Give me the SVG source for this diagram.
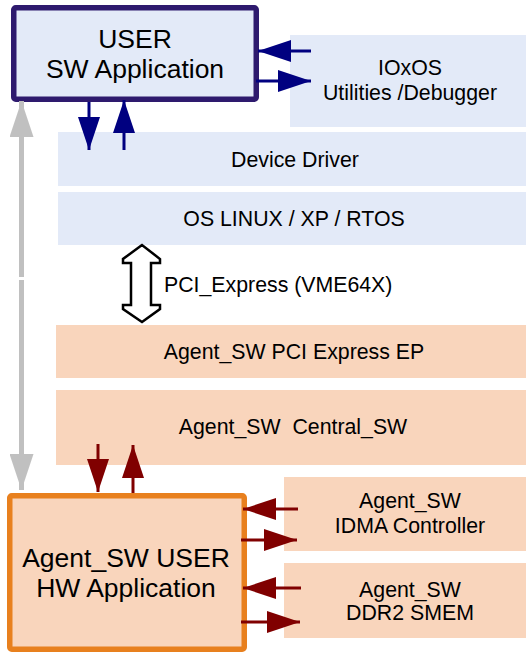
<svg xmlns="http://www.w3.org/2000/svg" width="526" height="653" viewBox="0 0 526 653">
<style>
.t{font-family:"Liberation Sans",Arial,sans-serif;fill:#000;text-anchor:middle}
.s{font-size:21.3px}
.b{font-size:26.5px}
.blue{fill:#e3eaf8}
.peach{fill:#f9d5bc}
.ba{stroke:#000080;stroke-width:3;fill:none}
.ra{stroke:#800000;stroke-width:3;fill:none}
.ga{stroke:#c0c0c0;stroke-width:5;fill:none}
</style>
<defs>
<marker id="mb" markerUnits="userSpaceOnUse" markerWidth="33" markerHeight="22" refX="33" refY="11" orient="auto"><path d="M0,0 L33,11 L0,22 Z" fill="#000080"/></marker>
<marker id="mr" markerUnits="userSpaceOnUse" markerWidth="33" markerHeight="22" refX="33" refY="11" orient="auto"><path d="M0,0 L33,11 L0,22 Z" fill="#800000"/></marker>
<marker id="mg" markerUnits="userSpaceOnUse" markerWidth="36" markerHeight="24" refX="36" refY="12" orient="auto"><path d="M0,0 L36,12 L0,24 Z" fill="#c0c0c0"/></marker>
</defs>
<rect width="526" height="653" fill="#fff"/>
<g id="ioxos"><rect class="blue" x="290" y="35" width="236" height="92"/><text class="t s" x="410" y="75">IOxOS</text><text class="t s" x="410" y="100">Utilities /Debugger</text></g>
<g id="device-driver"><rect class="blue" x="58" y="132" width="468" height="54"/><text class="t s" x="295" y="167">Device Driver</text></g>
<g id="os"><rect class="blue" x="58" y="192" width="468" height="53"/><text class="t s" x="294" y="226">OS LINUX / XP / RTOS</text></g>
<g id="user-sw"><rect x="13.75" y="7.75" width="242.5" height="91.5" rx="2" fill="#e3eaf8" stroke="#2e1a6e" stroke-width="5.5"/><text class="t b" x="135" y="48">USER</text><text class="t b" x="135" y="77.5">SW Application</text></g>
<g id="pci-ep"><rect class="peach" x="56" y="325" width="470" height="53"/><text class="t s" x="294" y="359">Agent_SW PCI Express EP</text></g>
<g id="central"><rect class="peach" x="56" y="390" width="470" height="75"/><text class="t s" x="293" y="434" xml:space="preserve">Agent_SW  Central_SW</text></g>
<g id="idma"><rect class="peach" x="284" y="477" width="242" height="74"/><text class="t s" x="410" y="508">Agent_SW</text><text class="t s" x="410" y="533">IDMA Controller</text></g>
<g id="ddr2"><rect class="peach" x="284" y="563" width="242" height="75"/><text class="t s" x="410" y="597">Agent_SW</text><text class="t s" x="410" y="620">DDR2 SMEM</text></g>
<g id="user-hw"><rect x="9.75" y="495.75" width="234.5" height="153.5" rx="2" fill="#f9d5bc" stroke="#e8801e" stroke-width="5.5"/><text class="t b" x="126" y="567">Agent_SW USER</text><text class="t b" x="126" y="597">HW Application</text></g>
<g id="connectors">
<line class="ga" x1="21.5" y1="277" x2="21.5" y2="101" marker-end="url(#mg)"/>
<line class="ga" x1="21.5" y1="280" x2="21.5" y2="490" marker-end="url(#mg)"/>
<line class="ba" x1="311" y1="51" x2="258" y2="51" marker-end="url(#mb)"/>
<line class="ba" x1="256" y1="81" x2="311" y2="81" marker-end="url(#mb)"/>
<line class="ba" x1="89" y1="102" x2="89" y2="150" marker-end="url(#mb)"/>
<line class="ba" x1="124" y1="150" x2="124" y2="100" marker-end="url(#mb)"/>
<polygon points="142,245 123,259 123,263 131,263 131,305 123,305 123,309 142,322 160,309 160,305 151,305 151,263 160,263 160,259" fill="#fff" stroke="#000" stroke-width="2.5" stroke-linejoin="miter"/>
<text class="s" x="164" y="292" style="font-family:'Liberation Sans',Arial,sans-serif">PCI_Express (VME64X)</text>
<line class="ra" x1="98" y1="444" x2="98" y2="492" marker-end="url(#mr)"/>
<line class="ra" x1="133" y1="493" x2="133" y2="445" marker-end="url(#mr)"/>
<line class="ra" x1="298" y1="509" x2="243" y2="509" marker-end="url(#mr)"/>
<line class="ra" x1="241" y1="540" x2="297" y2="540" marker-end="url(#mr)"/>
<line class="ra" x1="301" y1="588" x2="243" y2="588" marker-end="url(#mr)"/>
<line class="ra" x1="241" y1="622" x2="300" y2="622" marker-end="url(#mr)"/>
</g>
</svg>
